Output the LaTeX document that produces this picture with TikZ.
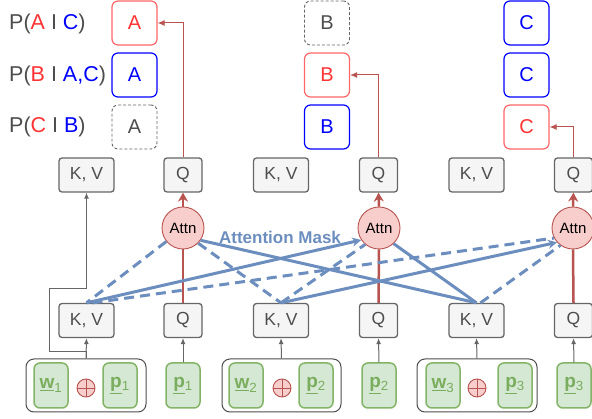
\documentclass[tikz,border=0pt]{standalone}
\usepackage{fontspec}
\setmainfont{Liberation Sans}
\usetikzlibrary{arrows.meta}
\definecolor{redt}{HTML}{FF3333}
\definecolor{redl}{HTML}{FF6666}
\definecolor{blut}{HTML}{0000FF}
\definecolor{greyt}{HTML}{4D4D4D}
\definecolor{edgered}{HTML}{B85450}
\definecolor{fillred}{HTML}{F8CECC}
\definecolor{gfill}{HTML}{D5E8D4}
\definecolor{gline}{HTML}{82B366}
\definecolor{gtext}{HTML}{7AAD5E}
\definecolor{mask}{HTML}{6C8EBF}
\definecolor{boxfill}{HTML}{F5F5F5}
\definecolor{boxline}{HTML}{666666}
\begin{document}
\begin{tikzpicture}[x=1pt,y=-1pt,
  gbox/.style={draw=boxline,fill=boxfill,rounded corners=3pt,line width=1.3pt,text=greyt,
    font=\fontsize{17.5}{20}\selectfont,inner sep=0pt,minimum height=34pt},
  kvbox/.style={gbox,minimum width=55pt},
  qbox/.style={gbox,minimum width=38pt},
  attn/.style={circle,draw=edgered,fill=fillred,line width=0.9pt,minimum size=42pt,inner sep=0pt,
    font=\fontsize{15}{17}\selectfont},
  lbox/.style={rounded corners=6pt,line width=1.2pt,minimum width=45pt,minimum height=44pt,inner sep=0pt,
    font=\fontsize{20}{22}\selectfont},
  redbox/.style={lbox,draw=redl,text=redt},
  blubox/.style={lbox,draw=blut,text=blut},
  dashbox/.style={lbox,draw=boxline,dash pattern=on 3pt off 2pt,line width=0.9pt,text=greyt},
  grn/.style={draw=gline,fill=gfill,rounded corners=6pt,line width=1.5pt,minimum width=34pt,minimum height=45pt,
    inner sep=0pt,text=gtext,font=\fontsize{19}{21}\selectfont},
  grp/.style={draw=greyt,rounded corners=8pt,line width=1pt,minimum height=53pt,inner sep=0pt},
  plusc/.style={circle,draw=edgered,fill=fillred,line width=0.9pt,minimum size=18pt,inner sep=0pt},
  plbl/.style={anchor=west,inner sep=0pt,text=greyt,font=\fontsize{21.5}{24}\selectfont},
  garrow/.style={draw=boxline,line width=1pt,-{Latex[length=6pt,width=5pt]}},
  rarrow/.style={draw=edgered,line width=1pt,-{Latex[length=7pt,width=6pt]}},
  thick red/.style={draw=edgered,line width=2.5pt},
  msolid/.style={draw=mask,line width=3pt},
  mdash/.style={draw=mask,line width=3pt,dash pattern=on 10pt off 6pt},
  mhead/.style={-{Stealth[length=9pt,width=9pt,open,line width=2pt]}}
]
\useasboundingbox (0,0) rectangle (592,419);

% labels
\node[plbl] (l1) at (9,24) {P(\textcolor{redt}{A} I \textcolor{blut}{C})};
\node[plbl] (l2) at (9,76) {P(\textcolor{redt}{B} I \textcolor{blut}{A,C})};
\node[plbl] (l3) at (9,127) {P(\textcolor{redt}{C} I \textcolor{blut}{B})};

% letter boxes
\node[redbox]  (a1) at (134.5,23) {A};
\node[blubox]  (a2) at (134.5,75) {A};
\node[dashbox] (a3) at (134.5,127) {A};
\node[dashbox] (b1) at (327,23) {B};
\node[redbox]  (b2) at (327,75) {B};
\node[blubox]  (b3) at (327,127) {B};
\node[blubox]  (c1) at (526.5,23) {C};
\node[blubox]  (c2) at (526.5,75) {C};
\node[redbox]  (c3) at (526.5,127) {C};

% top grey boxes
\node[kvbox] (kv1t) at (86.5,175) {K, V};
\node[qbox]  (q1t)  at (183,175) {Q};
\node[kvbox] (kv2t) at (281,175) {K, V};
\node[qbox]  (q2t)  at (378.5,175) {Q};
\node[kvbox] (kv3t) at (476.5,175) {K, V};
\node[qbox]  (q3t)  at (573.5,175) {Q};

% attn
\node[attn] (at1) at (183,228) {Attn};
\node[attn] (at2) at (379,228) {Attn};
\node[attn] (at3) at (573,228) {Attn};

% bottom grey boxes
\node[kvbox] (kv1b) at (86.5,320.5) {K, V};
\node[qbox]  (q1b)  at (183,320.5) {Q};
\node[kvbox] (kv2b) at (281,320.5) {K, V};
\node[qbox]  (q2b)  at (378.5,320.5) {Q};
\node[kvbox] (kv3b) at (476.5,320.5) {K, V};
\node[qbox]  (q3b)  at (573.5,320.5) {Q};

% groups
\node[grp,minimum width=120pt] (g1) at (86,385.5) {};
\node[grp,minimum width=119pt] (g2) at (281.5,385.5) {};
\node[grp,minimum width=120pt] (g3) at (477,385.5) {};

\node[grn] (w1) at (51,385.5) {\textbf{\underline{w}}\textsubscript{1}};
\node[grn] (p1) at (120,385.5) {\textbf{\underline{p}}\textsubscript{1}};
\node[grn] (p1s) at (183,385.5) {\textbf{\underline{p}}\textsubscript{1}};
\node[grn] (w2) at (246,385.5) {\textbf{\underline{w}}\textsubscript{2}};
\node[grn] (p2) at (316,385.5) {\textbf{\underline{p}}\textsubscript{2}};
\node[grn] (p2s) at (379,385.5) {\textbf{\underline{p}}\textsubscript{2}};
\node[grn] (w3) at (443,385.5) {\textbf{\underline{w}}\textsubscript{3}};
\node[grn] (p3) at (515,385.5) {\textbf{\underline{p}}\textsubscript{3}};
\node[grn] (p3s) at (574,385.5) {\textbf{\underline{p}}\textsubscript{3}};

\foreach \n/\x in {pl1/86,pl2/282,pl3/477}{
  \node[plusc] (\n) at (\x,388) {};
  \draw[edgered,line width=0.9pt] (\n.north) -- (\n.south) (\n.west) -- (\n.east);
}

% grey arrows
\draw[garrow] (g1.north) -- (kv1b.south);
\draw[garrow] (g2.north) -- (kv2b.south);
\draw[garrow] (g3.north) -- (kv3b.south);
\draw[garrow] (p1s.north) -- (q1b.south);
\draw[garrow] (p2s.north) -- (q2b.south);
\draw[garrow] (p3s.north) -- (q3b.south);
\coordinate (bendA) at (49,352);
\coordinate (bendB) at (49,289);
\draw[garrow] (g1.north) |- (bendA) -- (bendB) -| (kv1t.south);

% red connectors
\draw[thick red] (q1b.north) -- (at1.south);
\draw[thick red] (q2b.north) -- (at2.south);
\draw[thick red] (q3b.north) -- (at3.south);
\draw[thick red,-{Stealth[length=9pt,width=10pt]}] (at1.north) -- (q1t.south);
\draw[thick red,-{Stealth[length=9pt,width=10pt]}] (at2.north) -- (q2t.south);
\draw[thick red,-{Stealth[length=9pt,width=10pt]}] (at3.north) -- (q3t.south);
\draw[rarrow] (q1t.north) |- (a1.east);
\draw[rarrow] (q2t.north) |- (b2.east);
\draw[rarrow] (q3t.north) |- (c3.east);

% attention mask
\node[text=mask,font=\bfseries\fontsize{17}{19}\selectfont,inner sep=0pt] (mlab) at (280,237) {Attention Mask};
\draw[mdash] (at1.219) -- (kv1b.north);
\draw[mdash] (at1.315) -- (kv2b.north);
\draw[msolid] (at1.325) -- (kv3b.north);
\draw[msolid,mhead] (kv1b.north) -- (at2.214);
\draw[mdash] (kv2b.north) -- (at2.230);
\draw[msolid] (at2.313) -- (kv3b.north);
\draw[mdash] ([xshift=6pt]kv1b.north) -- (at3.208);
\draw[msolid,mhead] (kv2b.north) -- (at3.222);
\draw[mdash] ([xshift=4pt]kv3b.north) -- (at3.234);
\end{tikzpicture}
\end{document}
